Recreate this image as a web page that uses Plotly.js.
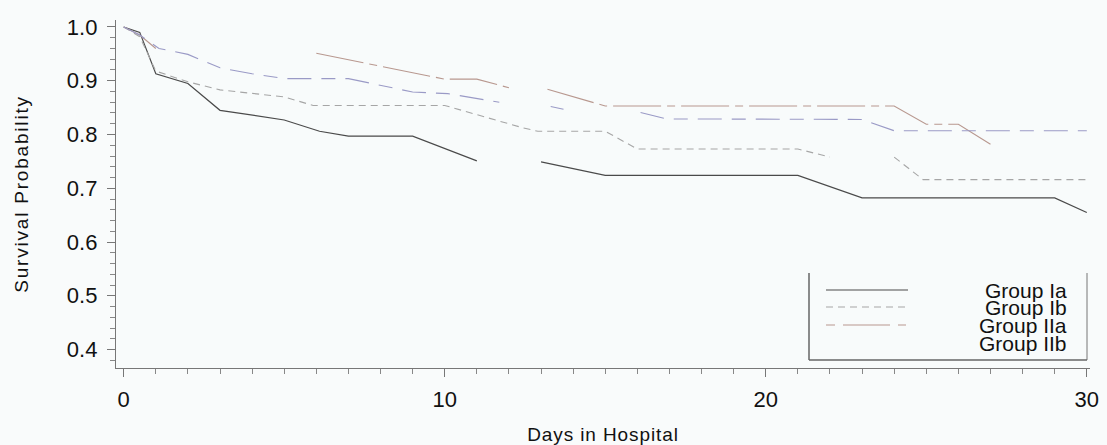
<!DOCTYPE html>
<html>
<head>
<meta charset="utf-8">
<script src="https://cdn.plot.ly/plotly-3.0.1.min.js"></script>
<style>
  html, body { margin: 0; padding: 0; background: #f9fbfb; }
  #chart { width: 1107px; height: 445px; }
  #chart .g-xtitle text { letter-spacing: 0.9px; }
  #chart .g-ytitle text { letter-spacing: 1.8px; }
</style>
</head>
<body>
<div id="chart"></div>
<script>
// ---- Data ----
const groupNames = ["Group Ia", "Group Ib", "Group IIa", "Group IIb"];

const daysIa = [0, 0.5, 1.0, 2.0, 3.0, 5.0, 6.1, 7.0, 9.0, 11.0, null, 13.0, 15.0, 21.0, 23.0, 29.0, 30.0];
const survIa = [1.0, 0.99, 0.913, 0.895, 0.845, 0.827, 0.806, 0.797, 0.797, 0.751, null, 0.749, 0.724, 0.724, 0.682, 0.682, 0.655];

const daysIb = [0, 0.5, 1.0, 2.0, 3.0, 5.0, 5.9, 10.0, 12.4, 12.9, 15.0, 16.0, 21.0, 22.0, null, 24.0, 24.9, 30.0];
const survIb = [1.0, 0.982, 0.918, 0.898, 0.883, 0.870, 0.854, 0.854, 0.813, 0.806, 0.806, 0.773, 0.773, 0.758, null, 0.758, 0.716, 0.716];

const daysIIa = [0, 0.5, 1.0, null, 6.0, 10.0, 11.0, 12.0, null, 13.2, 14.6, 15.0, 24.0, 25.0, 26.0, 27.0];
const survIIa = [1.0, 0.985, 0.96, null, 0.951, 0.903, 0.903, 0.887, null, 0.884, 0.859, 0.853, 0.853, 0.819, 0.819, 0.782];

const daysIIb = [0, 0.5, 1.1, 2.0, 3.0, 4.0, 5.0, 7.0, 9.0, 10.1, 11.7, null, 13.3, 13.7, null, 16.1, 16.9, 23.0, 23.7, 24.0, 30.0];
const survIIb = [1.0, 0.985, 0.96, 0.949, 0.924, 0.913, 0.904, 0.904, 0.879, 0.876, 0.86, null, 0.852, 0.847, null, 0.841, 0.829, 0.828, 0.813, 0.807, 0.807];

const xTickVals = [0, 10, 20, 30];
const yTickVals = [0.4, 0.5, 0.6, 0.7, 0.8, 0.9, 1.0];

// ---- Styles ----
const colors = ["#4a4a4a", "#a6a6a6", "#b8988f", "#9a9ac6"];
const dashes = ["solid", "7px,5px", "48px,6px,8px,6px", "24px,10px,14px,10px"];
const FONT = "Liberation Sans, Arial, sans-serif";

const W = 1107, H = 445;
const M = { l: 116, r: 17, t: 20, b: 77 };
const PW = W - M.l - M.r, PH = H - M.t - M.b;
const px2x = p => (p - M.l) / PW;
const px2y = p => (H - M.b - p) / PH;

const series = [
  [daysIa, survIa], [daysIb, survIb], [daysIIa, survIIa], [daysIIb, survIIb]
];

const traces = series.map((s, i) => ({
  type: "scatter",
  mode: "lines",
  x: s[0],
  y: s[1],
  name: groupNames[i],
  connectgaps: false,
  line: { color: colors[i], width: i === 0 ? 1.2 : 1.1, dash: dashes[i] },
  showlegend: false,
  hoverinfo: "x+y+name"
}));

// ---- Custom legend (box open at top, right-aligned labels) ----
const boxL = 809, boxR = 1087, boxT = 273, boxB = 360;
const shapes = [
  { type: "line", xref: "paper", yref: "paper", x0: px2x(boxL), x1: px2x(boxL), y0: px2y(boxT), y1: px2y(boxB), line: { color: "#666", width: 1.5 } },
  { type: "line", xref: "paper", yref: "paper", x0: px2x(boxR), x1: px2x(boxR), y0: px2y(boxT), y1: px2y(boxB), line: { color: "#777", width: 1 } },
  { type: "line", xref: "paper", yref: "paper", x0: px2x(boxL), x1: px2x(boxR), y0: px2y(boxB), y1: px2y(boxB), line: { color: "#666", width: 1.5 } }
];
const legendRowY = [290, 307, 325, 343];
const sampleL = 826, sampleR = 908;
for (let i = 0; i < 3; i++) {
  shapes.push({
    type: "line", xref: "paper", yref: "paper",
    x0: px2x(sampleL), x1: px2x(sampleR),
    y0: px2y(legendRowY[i]), y1: px2y(legendRowY[i]),
    line: { color: colors[i], width: 1.1, dash: i === 2 ? "9px,8px,47px,8px,8px" : dashes[i] }
  });
}
const annotations = groupNames.map((g, i) => ({
  xref: "paper", yref: "paper",
  x: px2x(1069), y: px2y(legendRowY[i]),
  xanchor: "right", yanchor: "middle",
  text: g, showarrow: false,
  font: { family: FONT, size: 21, color: "#111" }
}));

const layout = {
  width: W, height: H,
  margin: M,
  paper_bgcolor: "#f9fbfb",
  plot_bgcolor: "#f8fbfb",
  font: { family: FONT, color: "#111" },
  xaxis: {
    range: [-0.24, 30.1],
    tickvals: xTickVals,
    ticks: "outside", ticklen: 8, tickcolor: "#777", tickwidth: 1,
    minor: { dtick: 1, tick0: 0, ticks: "outside", ticklen: 5, tickcolor: "#888" },
    showline: true, linecolor: "#777", linewidth: 1.2,
    showgrid: false, zeroline: false,
    tickfont: { family: FONT, size: 22, color: "#111" },
    ticklabelstandoff: 3,
    title: { text: "Days in Hospital", font: { family: FONT, size: 19, color: "#111" }, standoff: 19 }
  },
  yaxis: {
    range: [0.3656, 1.013],
    tickvals: yTickVals,
    tickformat: ".1f",
    ticks: "outside", ticklen: 8, tickcolor: "#777", tickwidth: 1,
    minor: { dtick: 0.02, tick0: 0.4, ticks: "outside", ticklen: 5, tickcolor: "#888" },
    showline: true, linecolor: "#777", linewidth: 1.2,
    showgrid: false, zeroline: false,
    tickfont: { family: FONT, size: 22, color: "#111" },
    ticklabelstandoff: 5,
    title: { text: "Survival Probability", font: { family: FONT, size: 19, color: "#111" }, standoff: 33 }
  },
  shapes: shapes,
  annotations: annotations
};

Plotly.newPlot("chart", traces, layout, { displayModeBar: false, staticPlot: true });
</script>
</body>
</html>
